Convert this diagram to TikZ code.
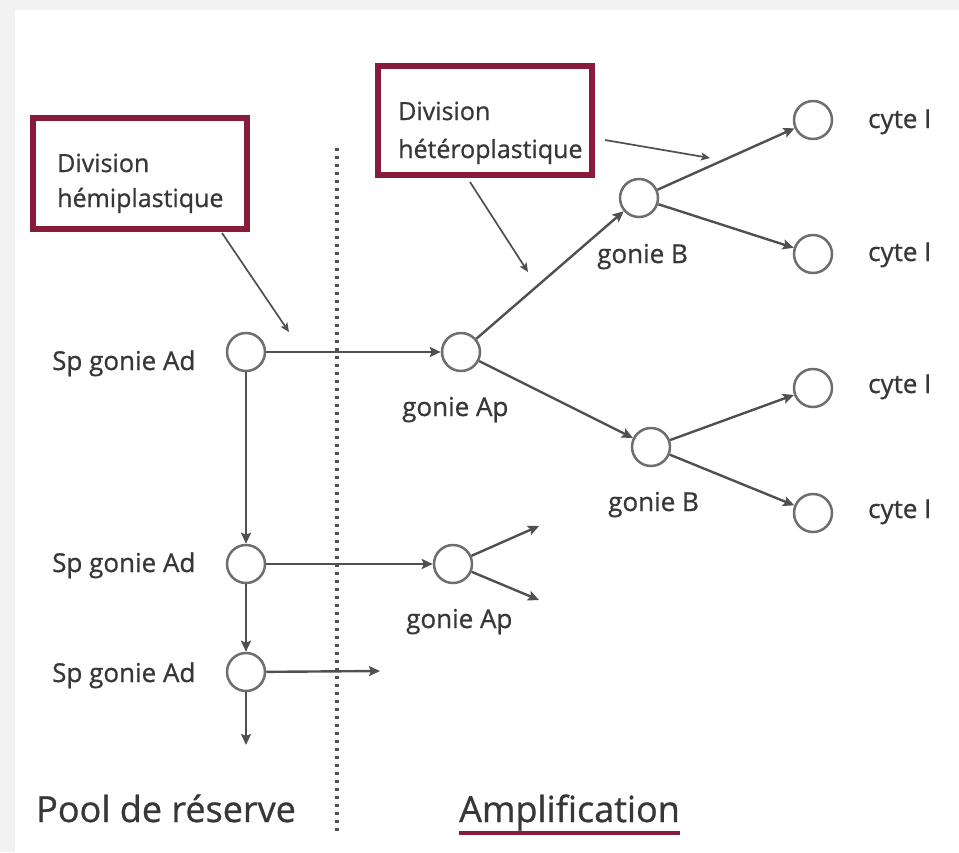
\documentclass[tikz,border=0pt]{standalone}
\usepackage{fontspec}
\setmainfont{Open Sans}
\newfontfamily\labfont{Open Sans}[FakeBold=0.8]
\usetikzlibrary{arrows.meta}
\definecolor{boxred}{RGB}{135,28,58}
\definecolor{linegray}{RGB}{80,80,80}
\definecolor{circgray}{RGB}{110,110,110}
\definecolor{txt}{RGB}{55,55,55}
\tikzset{
  cell/.style={circle,draw=circgray,line width=2.5pt,fill=white,minimum size=38pt,inner sep=0pt},
  arr/.style={draw=linegray,line width=2.4pt,-{Stealth[length=11pt,width=10pt,inset=2pt]}},
  thinarr/.style={draw=linegray,line width=1.7pt,-{Stealth[length=9pt,width=8pt,inset=2pt]}},
  lbl/.style={text=txt,font=\labfont\fontsize{26}{30}\selectfont,inner sep=0pt},
  boxlbl/.style={text=txt,font=\labfont\fontsize{25}{30}\selectfont,inner sep=0pt},
  big/.style={text=txt,font=\labfont\fontsize{36}{42}\selectfont,inner sep=0pt},
  redbox/.style={draw=boxred,line width=6pt},
}
\begin{document}
\begin{tikzpicture}[x=1pt,y=-1pt]
\useasboundingbox (0,0) rectangle (959,852);
\fill[white] (0,0) rectangle (959,852);
\fill[gray!10] (0,0) rectangle (15,852);
\fill[gray!10] (0,0) rectangle (959,10);

% boxes
\draw[redbox] (33,118) rectangle (247,229);
\node[boxlbl,anchor=base west] (t1a) at (57,172) {Division};
\node[boxlbl,anchor=base west] (t1b) at (57,207) {hémiplastique};
\draw[redbox] (378,66) rectangle (592,175);
\node[boxlbl,anchor=base west] (t2a) at (398,120) {Division};
\node[boxlbl,anchor=base west] (t2b) at (398,158) {hétéroplastique};
\coordinate (b1s) at (222,233);
\coordinate (b1e) at (289,332);
\coordinate (b2s) at (470,182);
\coordinate (b2e) at (528,272);
\coordinate (b3s) at (605,140);
\coordinate (b3e) at (710,158);

% dotted separator
\coordinate (dtop) at (337,148);
\coordinate (dbot) at (337,835);
\draw[linegray,line width=3.6pt,dash pattern=on 3.4pt off 4.6pt] (dtop) -- (dbot);

% cells
\node[cell] (ad1) at (246,352) {};
\node[cell] (ad2) at (246,564) {};
\node[cell] (ad3) at (246,672) {};
\node[cell] (ap1) at (461,352) {};
\node[cell] (ap2) at (453,564) {};
\node[cell] (gb1) at (639,198) {};
\node[cell] (gb2) at (651,447) {};
\node[cell] (c1) at (813,120) {};
\node[cell] (c2) at (813,254) {};
\node[cell] (c3) at (813,388) {};
\node[cell] (c4) at (813,513) {};

% free ends
\coordinate (ad3r) at (380,671);
\coordinate (ad3d) at (246,745);
\coordinate (ap2u) at (539,526);
\coordinate (ap2d) at (539,600);

% arrows
\draw[arr] (ad1) -- (ap1);
\draw[arr] (ad1) -- (ad2);
\draw[arr] (ad2) -- (ap2);
\draw[arr] (ad2) -- (ad3);
\draw[arr] (ad3) -- (ad3r);
\draw[arr] (ad3) -- (ad3d);
\draw[arr] (ap1) -- (gb1);
\draw[arr] (ap1) -- (gb2);
\draw[arr] (gb1) -- (c1);
\draw[arr] (gb1) -- (c2);
\draw[arr] (gb2) -- (c3);
\draw[arr] (gb2) -- (c4);
\draw[arr] (ap2) -- (ap2u);
\draw[arr] (ap2) -- (ap2d);
\draw[thinarr] (b1s) -- (b1e);
\draw[thinarr] (b2s) -- (b2e);
\draw[thinarr] (b3s) -- (b3e);

% labels
\node[lbl,anchor=base west] (l1) at (52,370) {Sp gonie Ad};
\node[lbl,anchor=base west] (l2) at (52,572) {Sp gonie Ad};
\node[lbl,anchor=base west] (l3) at (52,682) {Sp gonie Ad};
\node[lbl,anchor=base west] (l4) at (402,416) {gonie Ap};
\node[lbl,anchor=base west] (l5) at (406,628) {gonie Ap};
\node[lbl,anchor=base west] (l6) at (597,263) {gonie B};
\node[lbl,anchor=base west] (l7) at (608,511) {gonie B};
\node[lbl,anchor=base west] (k1) at (868,128) {cyte I};
\node[lbl,anchor=base west] (k2) at (868,261) {cyte I};
\node[lbl,anchor=base west] (k3) at (868,393) {cyte I};
\node[lbl,anchor=base west] (k4) at (868,518) {cyte I};

\node[big,anchor=base west] (pool) at (36,822) {Pool de réserve};
\node[big,anchor=base west] (ampl) at (459,822) {Amplification};
\draw[boxred,line width=4pt] (ampl.west |- 0,833) -- (ampl.east |- 0,833);
\end{tikzpicture}
\end{document}
